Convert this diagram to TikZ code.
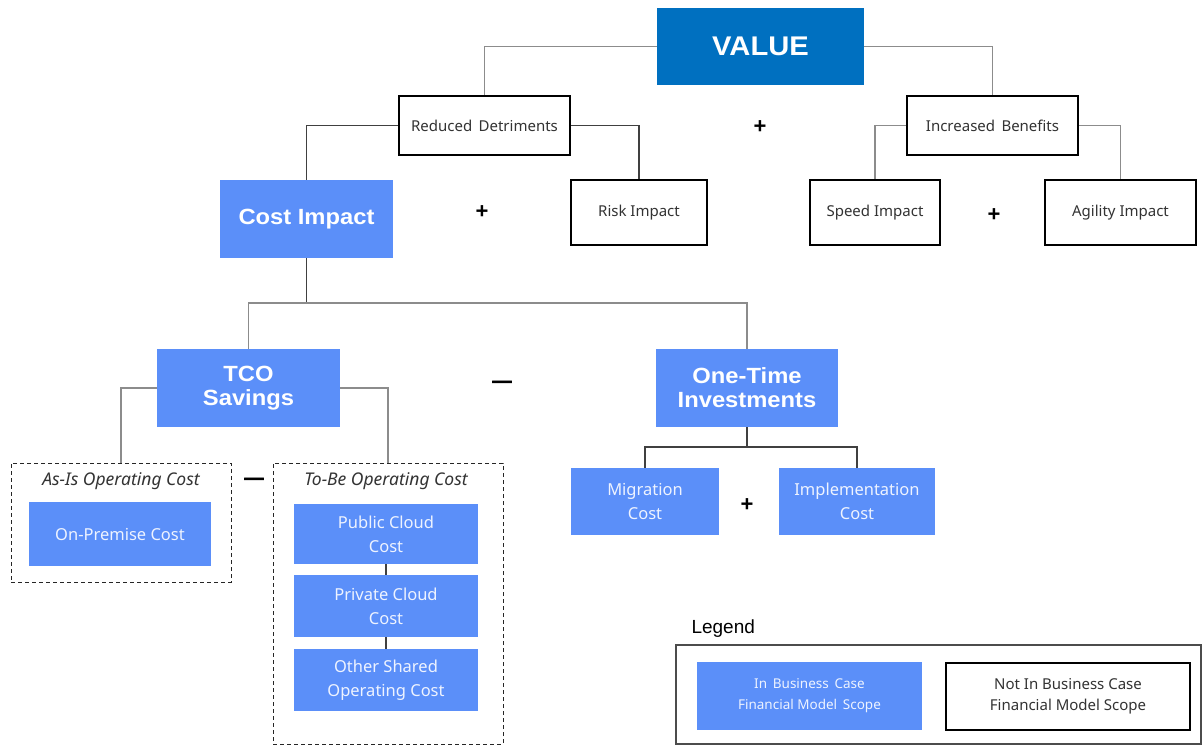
\documentclass[tikz,border=0pt]{standalone}
\usepackage{fontspec}
\setmainfont{Noto Sans}
\newfontfamily\headfont[FakeStretch=1.08]{Liberation Sans}
\newfontfamily\plainhead{Liberation Sans}
\newfontfamily\signfont[FakeBold=3]{Liberation Sans}
\usetikzlibrary{positioning}
\definecolor{valueblue}{HTML}{0070C0}
\definecolor{scopeblue}{HTML}{5B8FF9}
\definecolor{wirelight}{HTML}{8C8C8C}
\definecolor{wiredark}{HTML}{404040}
\definecolor{softwhite}{HTML}{EEF3FF}
\tikzset{
  bluebox/.style={fill=scopeblue, draw=none, inner sep=2pt, align=center,
    text=softwhite, font=\fontsize{16.5}{24}\selectfont},
  headbox/.style={fill=scopeblue, draw=none, inner sep=2pt, align=center,
    text=white, font=\headfont\bfseries\fontsize{22}{24}\selectfont},
  outbox/.style={fill=white, draw=black, line width=2pt, inner sep=2pt,
    align=center, text=black!80, font=\fontsize{15}{19}\selectfont},
  groupbox/.style={draw=black!85, line width=1pt, dash pattern=on 4pt off 3pt},
  grouptitle/.style={font=\itshape\fontsize{17.5}{20}\selectfont, text=black!80},
  wire/.style={draw=wirelight, line width=1.4pt},
  darkwire/.style={draw=wiredark, line width=1.4pt},
  opsign/.style={font=\plainhead\bfseries\fontsize{22}{22}\selectfont, text=black},
  minussign/.style={font=\signfont\bfseries\fontsize{19}{22}\selectfont, text=black}
}
\begin{document}
\begin{tikzpicture}[x=1pt,y=-1pt]
\useasboundingbox (0,0) rectangle (1203,745);

% top level
\node[fill=valueblue, minimum width=207, minimum height=77, text=white,
  font=\headfont\bfseries\fontsize{27}{30}\selectfont] (value) at (760.5,46.5) {VALUE};
\node[outbox, minimum width=171, minimum height=59] (rd) at (484.5,125.5) {Reduced\, Detriments};
\node[outbox, minimum width=171, minimum height=59] (ib) at (992.5,125.5) {Increased\, Benefits};
\node[opsign] (p1) at (760,127) {+};

% second level
\node[headbox, minimum width=173, minimum height=78] (cost) at (306.5,219) {Cost Impact};
\node[outbox, minimum width=136, minimum height=65] (risk) at (639,212.5) {Risk Impact};
\node[outbox, minimum width=130, minimum height=65] (speed) at (875,212.5) {Speed Impact};
\node[outbox, minimum width=151, minimum height=65] (agility) at (1120.5,212.5) {Agility Impact};
\node[opsign] (p2) at (482,212) {+};
\node[opsign] (p3) at (994,215) {+};

% cost breakdown
\node[headbox, minimum width=183, minimum height=78] (tco) at (248.5,388) {TCO\\Savings};
\node[headbox, minimum width=182, minimum height=78] (onetime) at (747,388) {One-Time\\Investments};
\node[minussign] (m1) at (502,384) {\textemdash};

% operating cost groups
\node[groupbox, minimum width=220, minimum height=119] (asis) at (121,522.5) {};
\node[grouptitle] (asist) at (121,481) {As-Is Operating Cost};
\node[bluebox, minimum width=182, minimum height=64] (onprem) at (120,534) {On-Premise Cost};
\node[minussign] (m2) at (254,481) {\textemdash};

\node[groupbox, minimum width=230, minimum height=281] (tobe) at (388,603.5) {};
\node[grouptitle] (tobet) at (386,481) {To-Be Operating Cost};
\node[bluebox, minimum width=184, minimum height=60] (public) at (386,534) {Public Cloud\\Cost};
\node[bluebox, minimum width=184, minimum height=62] (private) at (386,606) {Private Cloud\\Cost};
\node[bluebox, minimum width=184, minimum height=62] (other) at (386,680) {Other Shared\\Operating Cost};

% one-time items
\node[bluebox, minimum width=148, minimum height=67] (migration) at (645,501.5) {Migration\\Cost};
\node[bluebox, minimum width=156, minimum height=67] (impl) at (857,501.5) {Implementation\\Cost};
\node[opsign] (p4) at (747,505) {+};

% connectors
\draw[wire] (value.west) -| (rd.north);
\draw[wire] (value.east) -| (ib.north);
\draw[darkwire] (rd.west) -| (cost.north);
\draw[darkwire] (rd.east) -| (risk.north);
\draw[wire] (ib.west) -| (speed.north);
\draw[wire] (ib.east) -| (agility.north);

\coordinate (cs) at (306.5,303);
\draw[darkwire] (cost.south) -- (cs);
\draw[wire] (tco.north) |- (cs) -| (onetime.north);

\draw[wire] (tco.west) -| (asis.north);
\draw[wire] (tco.east) -| (tobe.north);

\draw[darkwire] (public.south) -- (private.north);
\draw[darkwire] (private.south) -- (other.north);

\coordinate (os) at (747,447);
\draw[darkwire] (onetime.south) -- (os);
\draw[darkwire] (migration.north) |- (os) -| (impl.north);

% legend
\node[font=\plainhead\fontsize{19}{22}\selectfont, anchor=west] (legt) at (688,629) {Legend};
\node[draw=black!70, line width=1.2pt, minimum width=525, minimum height=99] (legend) at (938.5,694.5) {};
\node[bluebox, minimum width=225, minimum height=68, font=\fontsize{13.5}{21}\selectfont] (legin) at (809.5,696) {In\, Business\, Case\\Financial Model\, Scope};
\node[outbox, minimum width=244, minimum height=67, font=\fontsize{15}{21}\selectfont] (legout) at (1068,696.5) {Not In Business Case\\Financial Model Scope};
\end{tikzpicture}
\end{document}
